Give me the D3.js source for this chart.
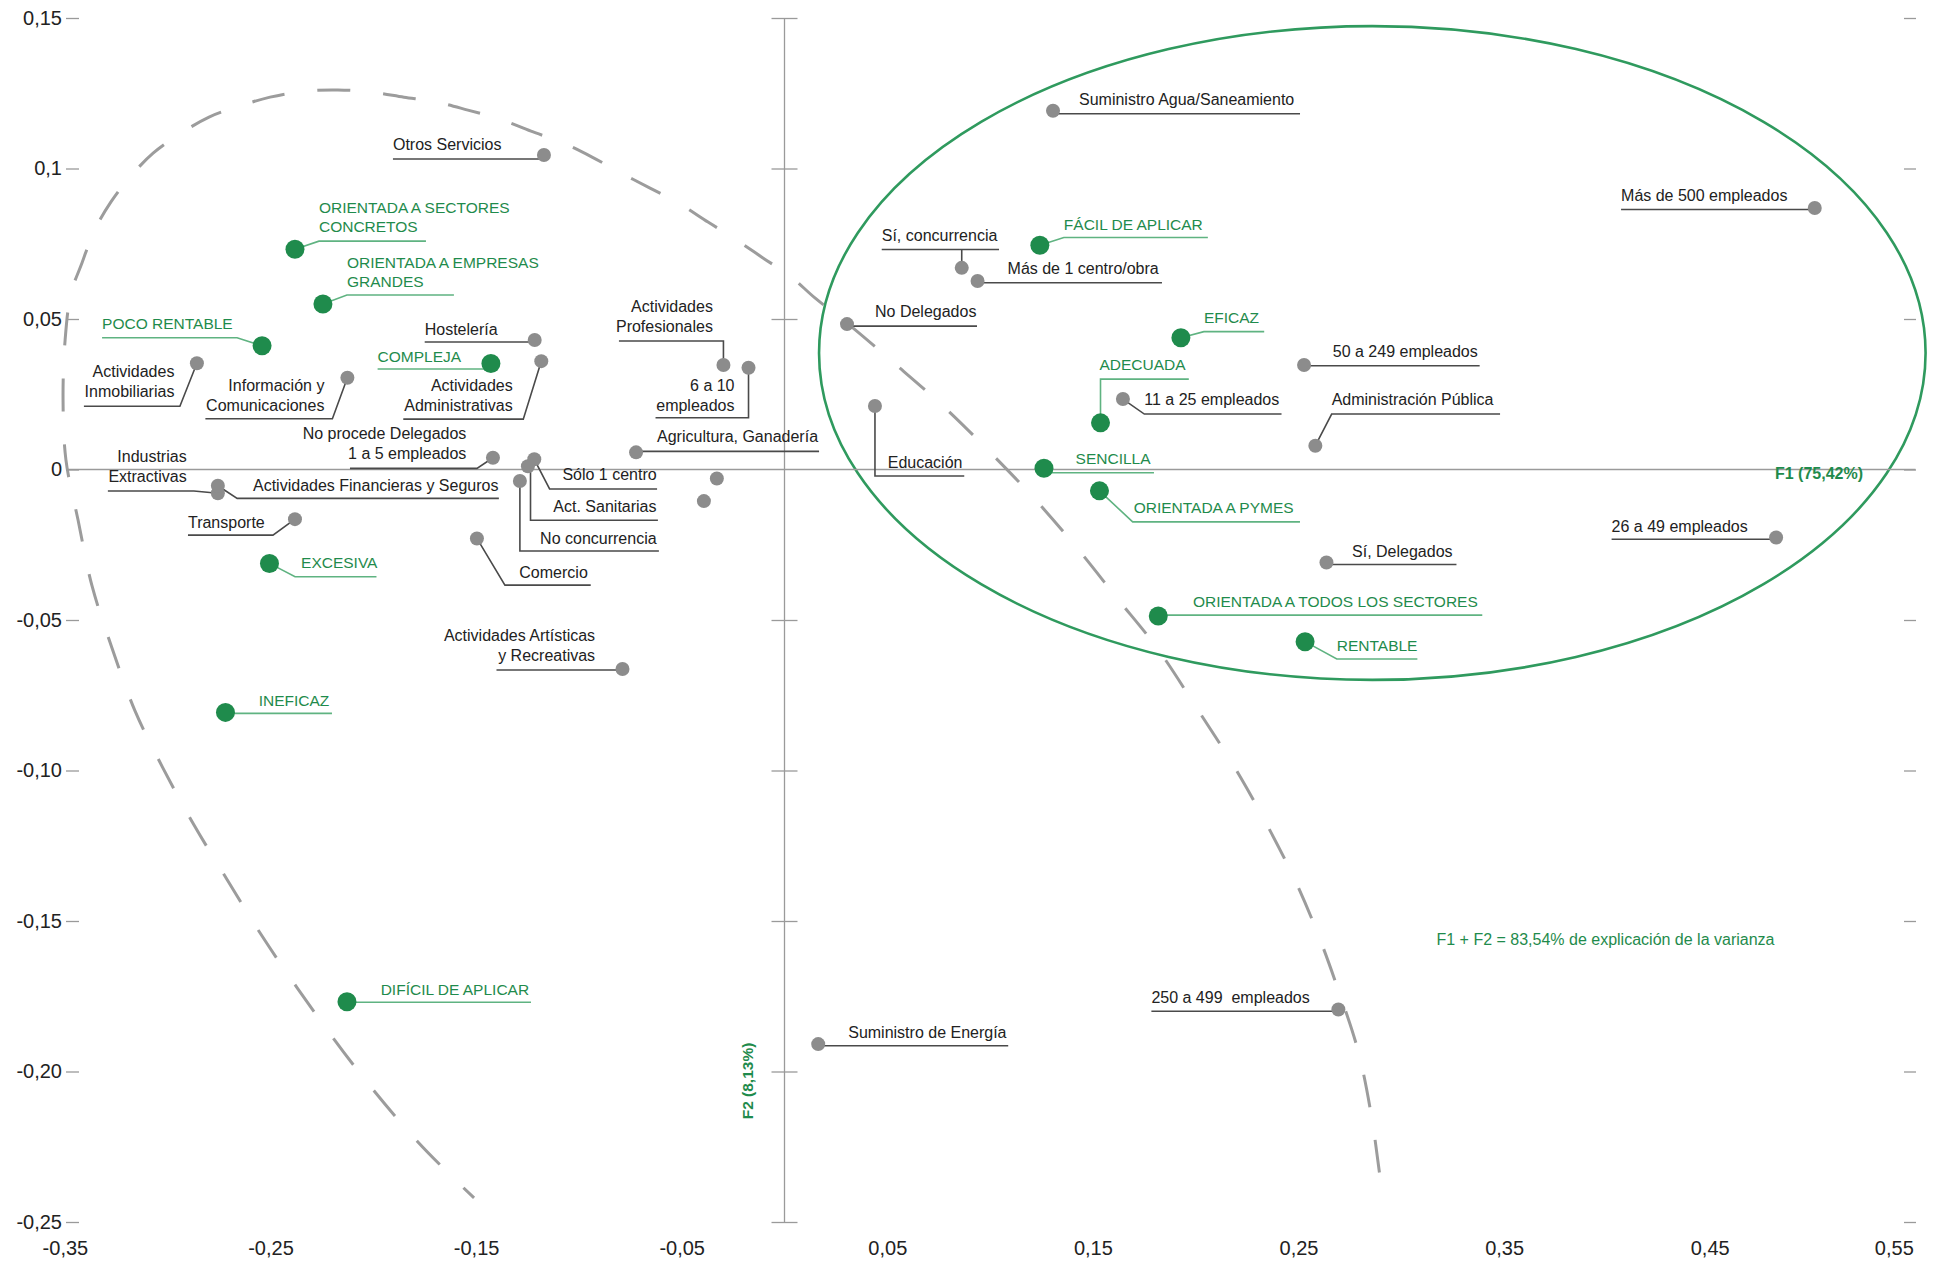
<!DOCTYPE html>
<html>
<head>
<meta charset="utf-8">
<script src="https://cdn.jsdelivr.net/npm/d3@7/dist/d3.min.js"></script>
<style>
  html, body { margin: 0; padding: 0; background: #fff; }
  svg { display: block; font-family: "Liberation Sans", Arial, Helvetica, sans-serif; }
</style>
</head>
<body>
<svg id="chart" width="1937" height="1261"></svg>
<script>
// ---------------- DATA ----------------
const xTickVals = [-0.35, -0.25, -0.15, -0.05, 0.05, 0.15, 0.25, 0.35, 0.45, 0.55];
const xTickLabels = ["-0,35", "-0,25", "-0,15", "-0,05", "0,05", "0,15", "0,25", "0,35", "0,45", "0,55"];
const yTickVals = [0.15, 0.1, 0.05, 0, -0.05, -0.1, -0.15, -0.2, -0.25];
const yTickLabels = ["0,15", "0,1", "0,05", "0", "-0,05", "-0,10", "-0,15", "-0,20", "-0,25"];

// Variables (grey points)
const varNames = [
  "Otros Servicios", "Actividades\nInmobiliarias", "Información y\nComunicaciones", "Hostelería",
  "Actividades\nAdministrativas", "Actividades\nProfesionales", "6 a 10\nempleados", "Agricultura, Ganadería",
  "No procede Delegados\n1 a 5 empleados", "Sólo 1 centro", "Act. Sanitarias", "No concurrencia",
  "Industrias\nExtractivas", "Actividades Financieras y Seguros", "Transporte", "Comercio",
  "", "", "Actividades Artísticas\ny Recreativas", "Suministro de Energía",
  "250 a 499  empleados", "Suministro Agua/Saneamiento", "Sí, concurrencia", "Más de 1 centro/obra",
  "Más de 500 empleados", "No Delegados", "50 a 249 empleados", "11 a 25 empleados",
  "Administración Pública", "Educación", "Sí, Delegados", "26 a 49 empleados"
];
const varF1 = [
  -0.117, -0.2858, -0.2126, -0.1215,
  -0.1183, -0.0297, -0.0175, -0.0722,
  -0.1418, -0.1217, -0.1248, -0.1287,
  -0.2756, -0.2756, -0.2381, -0.1496,
  -0.0329, -0.0392, -0.0788, 0.0164,
  0.2694, 0.1306, 0.0862, 0.0939,
  0.5011, 0.0304, 0.2527, 0.1646,
  0.2582, 0.0440, 0.2636, 0.4823
];
const varF2 = [
  0.1045, 0.0353, 0.0305, 0.0430,
  0.0360, 0.0347, 0.0338, 0.0057,
  0.0039, 0.0034, 0.0011, -0.0038,
  -0.0079, -0.0054, -0.0165, -0.0229,
  -0.0030, -0.0105, -0.0663, -0.1909,
  -0.1794, 0.1192, 0.0670, 0.0626,
  0.0869, 0.0483, 0.0347, 0.0234,
  0.0079, 0.0211, -0.0309, -0.0226
];

// Attributes (green points)
const attrNames = [
  "ORIENTADA A SECTORES\nCONCRETOS", "ORIENTADA A EMPRESAS\nGRANDES", "POCO RENTABLE", "COMPLEJA",
  "EXCESIVA", "INEFICAZ", "DIFÍCIL DE APLICAR", "FÁCIL DE APLICAR",
  "EFICAZ", "ADECUADA", "SENCILLA", "ORIENTADA A PYMES",
  "ORIENTADA A TODOS LOS SECTORES", "RENTABLE"
];
const attrF1 = [
  -0.2381, -0.2245, -0.2541, -0.1428,
  -0.2505, -0.2719, -0.2128, 0.1242,
  0.1928, 0.1537, 0.1262, 0.1532,
  0.1818, 0.2532
];
const attrF2 = [
  0.0732, 0.0550, 0.0411, 0.0352,
  -0.0312, -0.0807, -0.1768, 0.0745,
  0.0438, 0.0155, 0.0004, -0.0071,
  -0.0487, -0.0572
];

// Annotation shapes (data units)
const groupEllipse = { cx: 0.2859, cy: 0.0387, rx: 0.2691, ry: 0.1086 };
const envelopeF1 = [-0.1510, -0.1783, -0.2089, -0.2366, -0.2541, -0.2707, -0.2872, -0.3023, -0.3159, -0.3271,
  -0.3368, -0.3436, -0.3495, -0.3509, -0.3499, -0.3470, -0.3417, -0.3358, -0.3276, -0.3183,
  -0.3071, -0.2940, -0.2799, -0.2648, -0.2502, -0.2332, -0.2172, -0.2011, -0.1851, -0.1695,
  -0.1540, -0.1384, -0.1233, -0.1078, -0.0936, -0.0795, -0.0654, -0.0508, -0.0372, -0.0241,
  -0.0105, 0.0032, 0.0148, 0.0328, 0.0527, 0.0771, 0.0999, 0.1213, 0.1423, 0.1617,
  0.1812, 0.1997, 0.2220, 0.2459, 0.2585, 0.2692, 0.2790, 0.2853, 0.2897, 0.2906];
const envelopeF2 = [-0.2420, -0.2234, -0.1985, -0.1726, -0.1550, -0.1367, -0.1181, -0.0992, -0.0802, -0.0593,
  -0.0387, -0.0168, 0.0032, 0.0231, 0.0430, 0.0586, 0.0686, 0.0792, 0.0889, 0.0972,
  0.1051, 0.1115, 0.1171, 0.1208, 0.1237, 0.1257, 0.1261, 0.1254, 0.1237, 0.1221,
  0.1194, 0.1164, 0.1124, 0.1085, 0.1038, 0.0985, 0.0935, 0.0882, 0.0822, 0.0766,
  0.0703, 0.0640, 0.0570, 0.0473, 0.0357, 0.0211, 0.0058, -0.0095, -0.0261, -0.0427,
  -0.0593, -0.0784, -0.1025, -0.1330, -0.1527, -0.1726, -0.1932, -0.2141, -0.2354, -0.2407];

// ---------------- LABEL LAYOUT (pixel offsets from the point) ----------------
// a: text-anchor, t: [dx, dy] baseline of last line, p: leader polylines
const layout = {
  "Otros Servicios": { a: "start", t: [-151, -5], p: [[[-151, 4], [0, 4]]] },
  "Actividades\nInmobiliarias": { a: "end", t: [-22.5, 34], p: [[[-113, 43], [-17, 43], [0, 0]]] },
  "Información y\nComunicaciones": { a: "end", t: [-23, 33], p: [[[-142, 41], [-15, 41], [0, 0]]] },
  "Hostelería": { a: "start", t: [-110, -5], p: [[[-110, 2], [0, 2]]] },
  "Actividades\nAdministrativas": { a: "end", t: [-28.5, 50], p: [[[-138, 58], [-18, 58], [0, 0]]] },
  "Actividades\nProfesionales": { a: "end", t: [-10.5, -33], p: [[[-104.5, -24], [0, -24], [0, 0]]] },
  "6 a 10\nempleados": { a: "end", t: [-14, 43], p: [[[0, 0], [0, 50], [-93, 50]]] },
  "Agricultura, Ganadería": { a: "start", t: [21, -10], p: [[[0, -1], [183, -1]]] },
  "No procede Delegados\n1 a 5 empleados": { a: "end", t: [-26.6, 1.6], p: [[[-143, 10.6], [-16, 10.6], [0, 0]]] },
  "Sólo 1 centro": { a: "end", t: [122.4, 20.7], p: [[[0, 0], [15.3, 29.7], [122.8, 29.7]]] },
  "Act. Sanitarias": { a: "end", t: [128.6, 45.7], p: [[[2.6, 0], [2.6, 54], [130, 54]]] },
  "No concurrencia": { a: "end", t: [136.7, 62.6], p: [[[0, 0], [0, 70], [139, 70]]] },
  "Industrias\nExtractivas": { a: "end", t: [-31.2, -11], p: [[[-110, -2.3], [-24, -2.3], [0, 0]]] },
  "Actividades Financieras y Seguros": { a: "end", t: [280.6, 5], p: [[[0, 0], [19.3, 12.6], [281, 12.6]]] },
  "Transporte": { a: "start", t: [-107, 9.3], p: [[[-107, 16], [-22, 16], [0, 0]]] },
  "Comercio": { a: "start", t: [42.4, 40], p: [[[0, 0], [28, 46.7], [113.8, 46.7]]] },
  "Actividades Artísticas\ny Recreativas": { a: "end", t: [-27.4, -8.3], p: [[[-126, 1], [0, 1]]] },
  "Suministro de Energía": { a: "start", t: [30, -5.7], p: [[[0, 1.7], [190, 1.7]]] },
  "250 a 499  empleados": { a: "start", t: [-187, -6], p: [[[-187, 1.7], [0, 1.7]]] },
  "Suministro Agua/Saneamiento": { a: "start", t: [26, -5.7], p: [[[0, 3], [247, 3]]] },
  "Sí, concurrencia": { a: "start", t: [-80, -27], p: [[[-80, -18.4], [37.3, -18.4]], [[0, -18.4], [0, 0]]] },
  "Más de 1 centro/obra": { a: "start", t: [30, -7], p: [[[0, 1.7], [184.4, 1.7]]] },
  "Más de 500 empleados": { a: "start", t: [-193.7, -6.7], p: [[[-193.7, 1.6], [0, 1.6]]] },
  "No Delegados": { a: "start", t: [28, -6.7], p: [[[0, 2], [130, 2]]] },
  "50 a 249 empleados": { a: "start", t: [28.7, -7.7], p: [[[0, 0.7], [175.6, 0.7]]] },
  "11 a 25 empleados": { a: "start", t: [21.4, 6], p: [[[0, 0], [21.4, 15], [158.6, 15]]] },
  "Administración Pública": { a: "start", t: [16.3, -40.7], p: [[[0, 0], [16.3, -31.7], [184.7, -31.7]]] },
  "Educación": { a: "start", t: [12.8, 62.3], p: [[[0, 0], [0, 70], [89.3, 70]]] },
  "Sí, Delegados": { a: "start", t: [25.6, -5.6], p: [[[0, 2], [130, 2]]] },
  "26 a 49 empleados": { a: "start", t: [-164.5, -5.6], p: [[[-164.5, 1.7], [0, 1.7]]] },

  "ORIENTADA A SECTORES\nCONCRETOS": { a: "start", t: [24, -17], p: [[[0, 0], [24, -8], [131, -8]]] },
  "ORIENTADA A EMPRESAS\nGRANDES": { a: "start", t: [24, -17], p: [[[0, 0], [24, -9], [131, -9]]] },
  "POCO RENTABLE": { a: "start", t: [-160, -16.7], p: [[[-160, -8], [-25, -8], [0, 0]]] },
  "COMPLEJA": { a: "start", t: [-113.3, -1.3], p: [[[-113.3, 5.4], [0, 5.4]]] },
  "EXCESIVA": { a: "start", t: [31.6, 5], p: [[[0, 0], [25.6, 13.4], [107, 13.4]]] },
  "INEFICAZ": { a: "start", t: [33.2, -6.6], p: [[[0, 1], [106.5, 1]]] },
  "DIFÍCIL DE APLICAR": { a: "start", t: [33.7, -6.7], p: [[[0, 0.6], [184, 0.6]]] },
  "FÁCIL DE APLICAR": { a: "start", t: [24, -15.7], p: [[[0, 0], [24, -7.7], [168, -7.7]]] },
  "EFICAZ": { a: "start", t: [23, -14.4], p: [[[0, 0], [23, -6], [83.3, -6]]] },
  "ADECUADA": { a: "start", t: [-1, -52.7], p: [[[0, 0], [0, -43.7], [88.3, -43.7]]] },
  "SENCILLA": { a: "start", t: [31.6, -4], p: [[[0, 4.4], [110, 4.4]]] },
  "ORIENTADA A PYMES": { a: "start", t: [34.2, 22.6], p: [[[0, 0], [33.2, 31], [200.5, 31]]] },
  "ORIENTADA A TODOS LOS SECTORES": { a: "start", t: [34.7, -9.3], p: [[[0, -1], [324, -1]]] },
  "RENTABLE": { a: "start", t: [31.7, 9], p: [[[0, 0], [31.7, 17.3], [112.3, 17.3]]] }
};

// ---------------- STYLE ----------------
const GREEN = "#1f8b4c";
const GREEN_LINE = "#5fb381";
const ELLIPSE_GREEN = "#2f9a5e";
const GREY_PT = "#8c8c8c";
const AXIS_GREY = "#9a9a9a";
const TEXT = "#222";

// ---------------- SCALES ----------------
const x = d3.scaleLinear().domain([-0.35, 0.55]).range([64.9, 1915.3]);
const y = d3.scaleLinear().domain([-0.25, 0.15]).range([1222, 18]);

const svg = d3.select("#chart");

// ---------------- ANNOTATION SHAPES ----------------
svg.append("ellipse")
  .attr("cx", x(groupEllipse.cx)).attr("cy", y(groupEllipse.cy))
  .attr("rx", x(groupEllipse.cx + groupEllipse.rx) - x(groupEllipse.cx))
  .attr("ry", y(groupEllipse.cy) - y(groupEllipse.cy + groupEllipse.ry))
  .attr("fill", "none").attr("stroke", ELLIPSE_GREEN).attr("stroke-width", 2.6);

const envPts = envelopeF1.map((v, i) => [v, envelopeF2[i]]);
svg.append("path")
  .attr("d", d3.line().x(d => x(d[0])).y(d => y(d[1])).curve(d3.curveCatmullRom.alpha(0.5))(envPts))
  .attr("fill", "none").attr("stroke", "#9c9c9c").attr("stroke-width", 3)
  .attr("stroke-dasharray", "33 33").attr("stroke-dashoffset", 18);

// ---------------- AXES ----------------
// zero lines
svg.append("line").attr("x1", 66).attr("x2", 1915.5).attr("y1", y(0)).attr("y2", y(0))
  .attr("stroke", AXIS_GREY).attr("stroke-width", 1.3);
svg.append("line").attr("x1", x(0)).attr("x2", x(0)).attr("y1", y(0.15)).attr("y2", y(-0.25))
  .attr("stroke", AXIS_GREY).attr("stroke-width", 1.3);

// left axis with labels
const gL = svg.append("g").attr("transform", "translate(79,0)")
  .call(d3.axisLeft(y).tickValues(yTickVals).tickFormat((d, i) => yTickLabels[i]).tickSize(13).tickPadding(4));
gL.select(".domain").remove();
gL.selectAll(".tick line").attr("stroke", AXIS_GREY).attr("stroke-width", 1.3);
gL.selectAll(".tick text").attr("fill", TEXT).style("font-size", "20px")
  .style("font-family", "'Liberation Sans', Arial, Helvetica, sans-serif");

// right ticks
const gR = svg.append("g").attr("transform", "translate(1904,0)")
  .call(d3.axisRight(y).tickValues(yTickVals).tickFormat("").tickSize(12));
gR.select(".domain").remove();
gR.selectAll(".tick line").attr("stroke", AXIS_GREY).attr("stroke-width", 1.3);

// crossing ticks on central vertical axis
const gC = svg.append("g").attr("transform", `translate(${x(0) + 13},0)`)
  .call(d3.axisLeft(y).tickValues(yTickVals.filter(v => v !== 0)).tickFormat("").tickSize(26));
gC.select(".domain").remove();
gC.selectAll(".tick line").attr("stroke", AXIS_GREY).attr("stroke-width", 1.3);

// bottom labels
const gB = svg.append("g").attr("transform", "translate(0,1238)")
  .call(d3.axisBottom(x).tickValues(xTickVals).tickFormat((d, i) => xTickLabels[i]).tickSize(0).tickPadding(3));
gB.select(".domain").remove();
gB.selectAll(".tick text").attr("fill", TEXT).style("font-size", "20px")
  .style("font-family", "'Liberation Sans', Arial, Helvetica, sans-serif");
gB.selectAll(".tick").filter((d, i) => i === xTickVals.length - 1).select("text")
  .attr("text-anchor", "end").attr("x", -2);

// axis titles / notes
svg.append("text").attr("x", 1775).attr("y", 479).attr("fill", GREEN)
  .style("font-size", "16px").style("font-weight", "bold").text("F1 (75,42%)");
svg.append("text").attr("transform", "translate(753,1081) rotate(-90)").attr("text-anchor", "middle")
  .attr("fill", GREEN).style("font-size", "15.5px").style("font-weight", "bold").text("F2 (8,13%)");
svg.append("text").attr("x", 1436.5).attr("y", 945).attr("fill", GREEN)
  .style("font-size", "16px").text("F1 + F2 = 83,54% de explicación de la varianza");

// ---------------- POINTS & LABELS ----------------
const varData = varNames.map((n, i) => ({ name: n, f1: varF1[i], f2: varF2[i], kind: "var" }));
const attrData = attrNames.map((n, i) => ({ name: n, f1: attrF1[i], f2: attrF2[i], kind: "attr" }));
const all = varData.concat(attrData);

const leaderG = svg.append("g");
const pointG = svg.append("g");
const labelG = svg.append("g");

all.forEach(d => {
  const px = x(d.f1), py = y(d.f2);
  const L = layout[d.name];
  if (L) {
    L.p.forEach(poly => {
      leaderG.append("polyline")
        .attr("points", poly.map(q => `${px + q[0]},${py + q[1]}`).join(" "))
        .attr("fill", "none")
        .attr("stroke", d.kind === "attr" ? GREEN_LINE : "#4a4a4a")
        .attr("stroke-width", 1.6);
    });
    const lines = d.name.split("\n");
    const lh = d.kind === "attr" ? 19 : 20;
    const t = labelG.append("text")
      .attr("text-anchor", L.a)
      .attr("fill", d.kind === "attr" ? GREEN : TEXT)
      .style("font-size", d.kind === "attr" ? "15.5px" : "16px")
      .style("white-space", "pre");
    lines.forEach((ln, i) => {
      t.append("tspan")
        .attr("x", px + L.t[0])
        .attr("y", py + L.t[1] - (lines.length - 1 - i) * lh)
        .text(ln);
    });
  }
});

pointG.selectAll("circle.var").data(varData).join("circle").attr("class", "var")
  .attr("cx", d => x(d.f1)).attr("cy", d => y(d.f2)).attr("r", 7).attr("fill", GREY_PT);
pointG.selectAll("circle.attr").data(attrData).join("circle").attr("class", "attr")
  .attr("cx", d => x(d.f1)).attr("cy", d => y(d.f2)).attr("r", 9.5).attr("fill", GREEN);
</script>
</body>
</html>
